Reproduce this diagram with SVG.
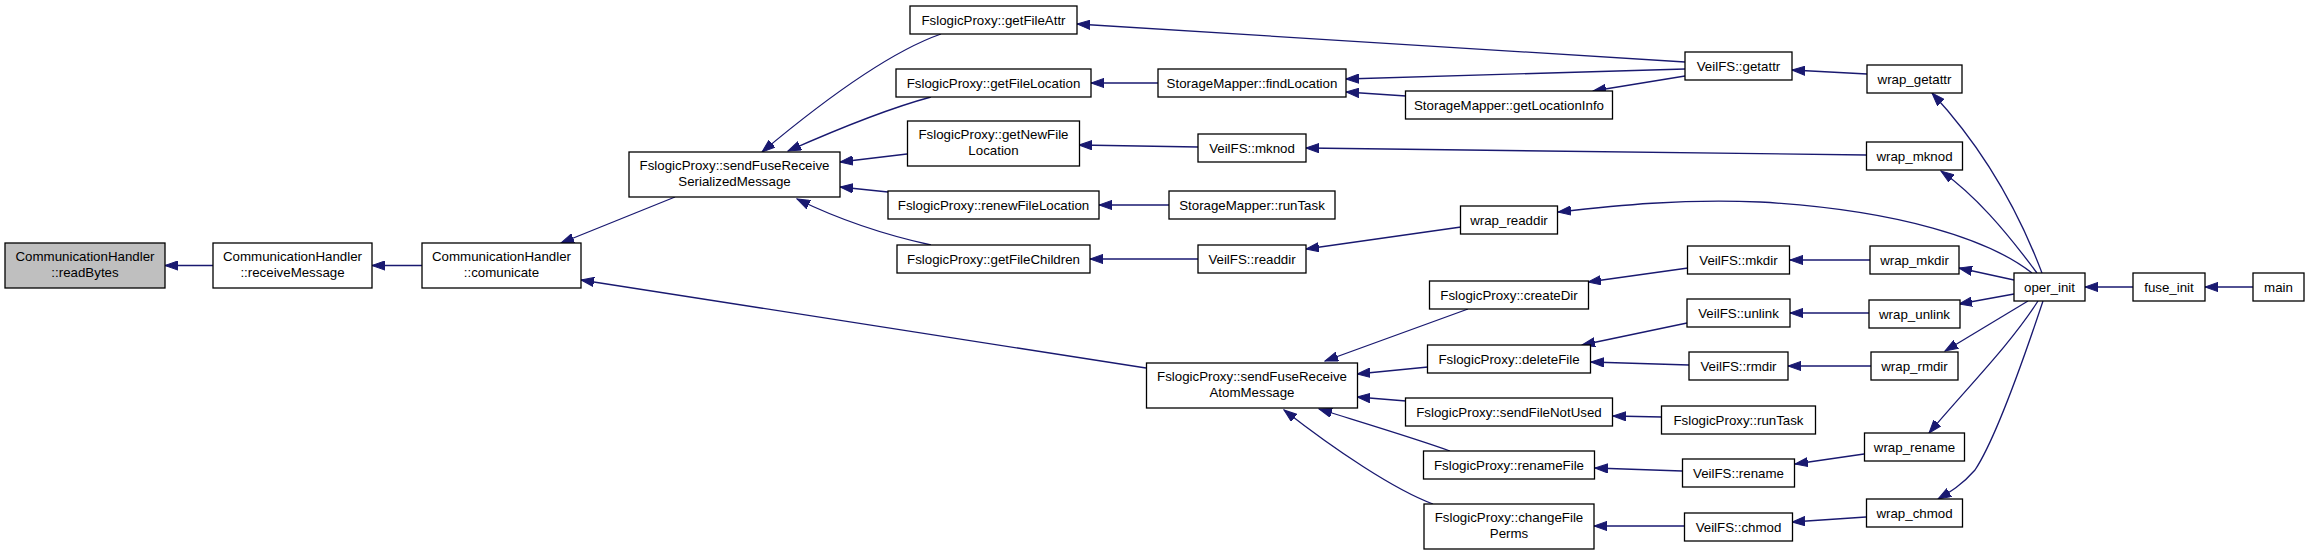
<svg xmlns="http://www.w3.org/2000/svg" width="2309" height="555" viewBox="0 0 2309 555">
<style>
  .n rect { fill: #ffffff; stroke: #000000; stroke-width: 1.3; }
  .n.hl rect { fill: #bfbfbf; }
  .n text { font-family: "Liberation Sans", Arial, sans-serif; font-size: 13.3px; fill: #000000; text-anchor: middle; }
  #edges path { fill: none; stroke: #191970; stroke-width: 1.3; marker-end: url(#arr); }
</style>
<defs>
  <marker id="arr" markerUnits="userSpaceOnUse" markerWidth="14" markerHeight="10" refX="13" refY="5" orient="auto">
    <path d="M0,0.4 L13,5 L0,9.6 z" fill="#191970" stroke="#191970" stroke-width="1"/>
  </marker>
</defs>
<rect x="0" y="0" width="2309" height="555" fill="#ffffff"/>
<g id="edges">
  <path d="M213,265.5 L165,265.5"/>
  <path d="M422,265.5 L372,265.5"/>
  <path d="M675,197 L561,243"/>
  <path d="M1146,368 L581,280"/>
  <path d="M941,34 C895,50 830,95 762,152"/>
  <path d="M931,97 C890,108 840,128 788,151"/>
  <path d="M907,154 L840,162"/>
  <path d="M888,192 L840,187"/>
  <path d="M931,245 C890,236 840,220 797,199"/>
  <path d="M1158,83 L1091,83"/>
  <path d="M1198,147 L1079,145"/>
  <path d="M1169,205 L1099,205"/>
  <path d="M1198,259 L1090,259"/>
  <path d="M1406,96 L1346,92"/>
  <path d="M1685,69 L1346,79"/>
  <path d="M1685,76 L1593,91"/>
  <path d="M1685,62 L1077,24"/>
  <path d="M1867,74 L1792,70"/>
  <path d="M1866,155 L1306,148"/>
  <path d="M2032,273 C1990,240 1900,210 1760,202 C1680,199 1620,205 1558,212"/>
  <path d="M1461,227 L1306,249"/>
  <path d="M2042,273 C2020,215 1985,150 1932,93"/>
  <path d="M2037,273 C2005,230 1975,195 1941,171"/>
  <path d="M2014,280 L1959,268"/>
  <path d="M2014,294 L1959,304"/>
  <path d="M2028,301 L1945,351"/>
  <path d="M2038,301 C2010,345 1965,390 1929,433"/>
  <path d="M2043,301 C2020,370 1995,440 1975,470 C1962,485 1950,492 1938,499"/>
  <path d="M2133,287 L2085,287"/>
  <path d="M2253,287 L2205,287"/>
  <path d="M1870,260 L1790,260"/>
  <path d="M1869,313 L1790,313"/>
  <path d="M1871,366 L1788,366"/>
  <path d="M1864,454 L1795,464"/>
  <path d="M1866,517 L1792,522"/>
  <path d="M1688,268 L1588,282"/>
  <path d="M1687,323 L1582,345"/>
  <path d="M1689,365 L1591,362"/>
  <path d="M1662,417 L1613,416"/>
  <path d="M1682,471 L1595,468"/>
  <path d="M1684,526 L1594,526"/>
  <path d="M1468,309 L1325,361"/>
  <path d="M1428,367 L1357,374"/>
  <path d="M1406,401 L1357,397"/>
  <path d="M1450,451 C1420,440 1380,428 1319,409"/>
  <path d="M1433,504 C1395,490 1335,450 1284,410"/>
</g>
<g id="n_readBytes" class="n hl"><rect x="5" y="243" width="160" height="45"/><text x="85" y="260.5">CommunicationHandler</text><text x="85" y="276.5">::readBytes</text></g>
<g id="n_receiveMessage" class="n"><rect x="213" y="243" width="159" height="45"/><text x="292.5" y="260.5">CommunicationHandler</text><text x="292.5" y="276.5">::receiveMessage</text></g>
<g id="n_comunicate" class="n"><rect x="422" y="243" width="159" height="45"/><text x="501.5" y="260.5">CommunicationHandler</text><text x="501.5" y="276.5">::comunicate</text></g>
<g id="n_sendFuseReceiveSerializedMessage" class="n"><rect x="629" y="152" width="211" height="45"/><text x="734.5" y="169.5">FslogicProxy::sendFuseReceive</text><text x="734.5" y="185.5">SerializedMessage</text></g>
<g id="n_getFileAttr" class="n"><rect x="910" y="6" width="167" height="28"/><text x="993.5" y="24.5">FslogicProxy::getFileAttr</text></g>
<g id="n_getFileLocation" class="n"><rect x="896" y="69" width="195" height="28"/><text x="993.5" y="87.5">FslogicProxy::getFileLocation</text></g>
<g id="n_getNewFileLocation" class="n"><rect x="907.5" y="121" width="172" height="45"/><text x="993.5" y="138.5">FslogicProxy::getNewFile</text><text x="993.5" y="154.5">Location</text></g>
<g id="n_renewFileLocation" class="n"><rect x="888" y="191" width="211" height="28"/><text x="993.5" y="209.5">FslogicProxy::renewFileLocation</text></g>
<g id="n_getFileChildren" class="n"><rect x="897" y="245" width="193" height="28"/><text x="993.5" y="263.5">FslogicProxy::getFileChildren</text></g>
<g id="n_findLocation" class="n"><rect x="1158" y="69" width="188" height="28"/><text x="1252" y="87.5">StorageMapper::findLocation</text></g>
<g id="n_veilMknod" class="n"><rect x="1198" y="134" width="108" height="28"/><text x="1252" y="152.5">VeilFS::mknod</text></g>
<g id="n_smRunTask" class="n"><rect x="1169" y="191" width="166" height="28"/><text x="1252" y="209.5">StorageMapper::runTask</text></g>
<g id="n_veilReaddir" class="n"><rect x="1198" y="245" width="108" height="28"/><text x="1252" y="263.5">VeilFS::readdir</text></g>
<g id="n_sendFuseReceiveAtomMessage" class="n"><rect x="1146.5" y="363" width="211" height="45"/><text x="1252" y="380.5">FslogicProxy::sendFuseReceive</text><text x="1252" y="396.5">AtomMessage</text></g>
<g id="n_getLocationInfo" class="n"><rect x="1405.5" y="91" width="207" height="28"/><text x="1509" y="109.5">StorageMapper::getLocationInfo</text></g>
<g id="n_wrapReaddir" class="n"><rect x="1460.5" y="206" width="97" height="28"/><text x="1509" y="224.5">wrap_readdir</text></g>
<g id="n_createDir" class="n"><rect x="1429.5" y="281" width="159" height="28"/><text x="1509" y="299.5">FslogicProxy::createDir</text></g>
<g id="n_deleteFile" class="n"><rect x="1427.5" y="345" width="163" height="28"/><text x="1509" y="363.5">FslogicProxy::deleteFile</text></g>
<g id="n_sendFileNotUsed" class="n"><rect x="1405.5" y="398" width="207" height="28"/><text x="1509" y="416.5">FslogicProxy::sendFileNotUsed</text></g>
<g id="n_renameFile" class="n"><rect x="1423.5" y="451" width="171" height="28"/><text x="1509" y="469.5">FslogicProxy::renameFile</text></g>
<g id="n_changeFilePerms" class="n"><rect x="1424" y="504" width="170" height="45"/><text x="1509" y="521.5">FslogicProxy::changeFile</text><text x="1509" y="537.5">Perms</text></g>
<g id="n_veilGetattr" class="n"><rect x="1685" y="52" width="107" height="28"/><text x="1738.5" y="70.5">VeilFS::getattr</text></g>
<g id="n_veilMkdir" class="n"><rect x="1687.5" y="246" width="102" height="28"/><text x="1738.5" y="264.5">VeilFS::mkdir</text></g>
<g id="n_veilUnlink" class="n"><rect x="1687" y="299" width="103" height="28"/><text x="1738.5" y="317.5">VeilFS::unlink</text></g>
<g id="n_veilRmdir" class="n"><rect x="1689" y="352" width="99" height="28"/><text x="1738.5" y="370.5">VeilFS::rmdir</text></g>
<g id="n_fpRunTask" class="n"><rect x="1661.5" y="406" width="154" height="28"/><text x="1738.5" y="424.5">FslogicProxy::runTask</text></g>
<g id="n_veilRename" class="n"><rect x="1682.5" y="459" width="112" height="28"/><text x="1738.5" y="477.5">VeilFS::rename</text></g>
<g id="n_veilChmod" class="n"><rect x="1684.5" y="513" width="108" height="28"/><text x="1738.5" y="531.5">VeilFS::chmod</text></g>
<g id="n_wrapGetattr" class="n"><rect x="1867" y="65" width="95" height="28"/><text x="1914.5" y="83.5">wrap_getattr</text></g>
<g id="n_wrapMknod" class="n"><rect x="1866.5" y="142" width="96" height="28"/><text x="1914.5" y="160.5">wrap_mknod</text></g>
<g id="n_wrapMkdir" class="n"><rect x="1870" y="246" width="89" height="28"/><text x="1914.5" y="264.5">wrap_mkdir</text></g>
<g id="n_wrapUnlink" class="n"><rect x="1869" y="300" width="91" height="28"/><text x="1914.5" y="318.5">wrap_unlink</text></g>
<g id="n_wrapRmdir" class="n"><rect x="1871" y="352" width="87" height="28"/><text x="1914.5" y="370.5">wrap_rmdir</text></g>
<g id="n_wrapRename" class="n"><rect x="1864.5" y="433" width="100" height="28"/><text x="1914.5" y="451.5">wrap_rename</text></g>
<g id="n_wrapChmod" class="n"><rect x="1866.5" y="499" width="96" height="28"/><text x="1914.5" y="517.5">wrap_chmod</text></g>
<g id="n_operInit" class="n"><rect x="2014" y="273" width="71" height="28"/><text x="2049.5" y="291.5">oper_init</text></g>
<g id="n_fuseInit" class="n"><rect x="2133" y="273" width="72" height="28"/><text x="2169" y="291.5">fuse_init</text></g>
<g id="n_main" class="n"><rect x="2253" y="273" width="51" height="28"/><text x="2278.5" y="291.5">main</text></g>
</svg>
